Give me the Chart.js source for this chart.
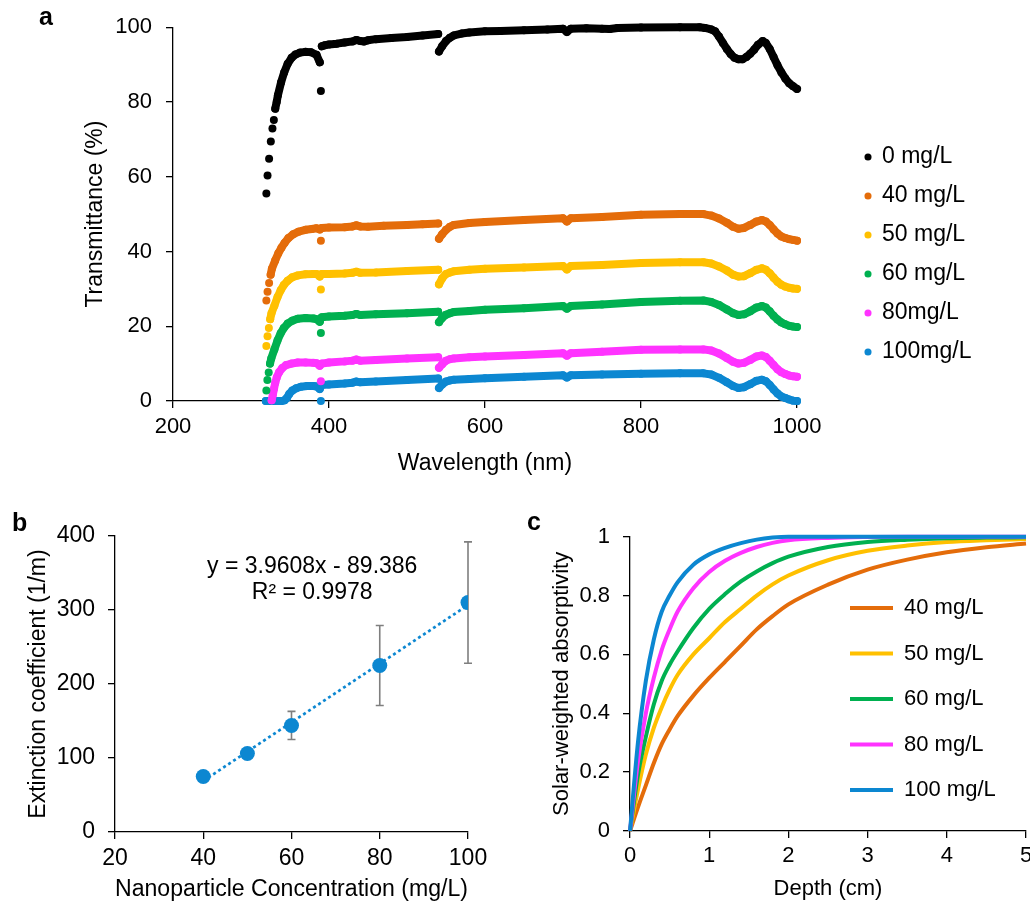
<!DOCTYPE html>
<html>
<head>
<meta charset="utf-8">
<script src="https://cdn.jsdelivr.net/npm/chart.js@4.4.1/dist/chart.umd.min.js"></script>
<style>
  html, body { margin: 0; padding: 0; background: #fff; width: 1030px; height: 907px; overflow: hidden; }
  canvas { position: absolute; display: block; }
  #chartA { left: 0; top: 0; }
  #chartB { left: 0; top: 490px; }
  #chartC { left: 520px; top: 490px; }
</style>
</head>
<body>
<canvas id="chartA" width="1030" height="490"></canvas>
<canvas id="chartB" width="520" height="417"></canvas>
<canvas id="chartC" width="540" height="417"></canvas>
<script>
// ---------- (a) transmittance spectra: [wavelength nm, transmittance %] ----------
const spectrum0 = [[319.7,55.5],[321.2,60.3],[323.2,64.8],[325.4,69.4],[327.5,72.9],[329.3,75.2],[331.1,78.2],[332.9,80.0],[334.5,81.8],[338.5,85.2],[342.5,87.9],[347,90.2],[352,91.8],[357,92.7],[363,93.2],[370,93.4],[377,93.3],[384,92.6],[388.2,90.6],[389.6,82.9],[390.8,94.9],[395,95.2],[400,95.4],[410,95.6],[420,95.9],[430,96.2],[435,96.6],[440,96.3],[445,96.2],[450,96.5],[460,96.8],[480,97.1],[500,97.4],[520,97.8],[540,98.2],[541,93.5],[545,94.9],[550,96.3],[555,97.2],[560,97.8],[570,98.3],[580,98.6],[600,98.9],[620,99.0],[650,99.2],[680,99.4],[700,99.6],[705,98.7],[710,99.6],[730,99.7],[750,99.6],[760,99.5],[770,99.8],[800,99.9],[850,100],[875,100],[882,99.8],[890,99.4],[895,98.9],[900,97.5],[905,95.8],[910,94.2],[915,92.8],[920,91.8],[925,91.4],[930,91.4],[935,92.0],[940,92.9],[945,94.0],[950,95.3],[956,96.3],[960,95.8],[965,94.2],[970,92.0],[975,89.8],[980,87.9],[985,86.3],[990,85.0],[995,84.2],[1000,83.5]];
const spectrum40 = [[319.7,26.9],[321.2,29.2],[323.2,31.6],[325.2,33.8],[326.8,35.4],[331,37.6],[335,39.5],[339,41.0],[343,42.3],[348,43.6],[354,44.6],[361,45.3],[370,45.8],[378,46.0],[384,46.2],[388.2,45.9],[389.6,42.9],[390.8,46.3],[400,46.4],[420,46.5],[430,46.7],[435,47.0],[440,46.7],[450,46.6],[470,46.9],[500,47.1],[520,47.3],[540,47.5],[541,43.4],[545,44.6],[550,45.8],[555,46.6],[560,47.1],[580,47.6],[600,47.9],[650,48.4],[700,48.9],[705,48.0],[710,48.9],[750,49.2],[800,49.8],[850,50.0],[880,50.0],[890,49.6],[900,48.8],[910,47.7],[918,46.6],[925,46.1],[932,46.3],[940,47.1],[948,48.0],[955,48.4],[960,48.0],[965,47.1],[970,45.9],[975,44.8],[980,44.0],[985,43.6],[990,43.3],[995,43.1],[1000,42.9]];
const spectrum50 = [[319.7,14.7],[321.2,17.3],[322.9,19.5],[324.6,21.9],[326.3,23.5],[330,25.5],[334,27.8],[338,29.6],[342,31.0],[347,32.2],[353,33.1],[360,33.6],[370,33.9],[380,34.0],[384,34.0],[388.2,33.3],[389.6,29.8],[390.8,34.0],[400,34.0],[420,34.1],[430,34.3],[435,34.6],[440,34.3],[460,34.4],[500,34.8],[540,35.1],[541,31.2],[545,32.8],[550,34.0],[555,34.4],[560,34.7],[580,35.1],[600,35.4],[650,35.7],[700,36.1],[705,35.2],[710,36.1],[750,36.4],[800,36.9],[850,37.1],[880,37.1],[890,36.8],[900,36.0],[910,34.9],[918,33.8],[925,33.3],[932,33.4],[940,34.2],[948,35.1],[955,35.5],[960,35.1],[965,34.2],[970,33.0],[975,31.9],[980,31.1],[985,30.6],[990,30.3],[995,30.1],[1000,30.0]];
const spectrum60 = [[319.7,2.8],[321,5.6],[322.7,7.6],[324.4,10.0],[326,11.4],[330,13.8],[334,16.2],[338,18.1],[342,19.5],[347,20.7],[353,21.5],[360,22.0],[370,22.2],[380,22.1],[384,21.9],[388.2,21.2],[389.6,18.2],[390.8,22.4],[400,22.6],[420,22.8],[430,23.0],[435,23.3],[440,23.0],[460,23.2],[500,23.5],[540,23.9],[541,21.1],[545,22.2],[550,23.1],[555,23.5],[560,23.8],[580,24.1],[600,24.4],[650,24.8],[700,25.4],[705,24.7],[710,25.4],[750,25.8],[800,26.5],[850,26.8],[880,26.9],[890,26.5],[900,25.7],[910,24.5],[918,23.5],[925,23.0],[932,23.2],[940,24.0],[948,25.0],[955,25.4],[960,25.0],[965,24.0],[970,22.8],[975,21.8],[980,21.0],[985,20.5],[990,20.1],[995,19.9],[1000,19.8]];
const spectrum80 = [[326.5,0.2],[328,1.7],[329.5,3.3],[331,4.8],[333,6.3],[336,7.7],[340,8.8],[345,9.6],[352,10.0],[360,10.3],[370,10.3],[380,10.2],[384,10.1],[388.2,9.4],[389.6,5.3],[390.8,10.0],[400,10.3],[420,10.6],[430,10.8],[435,11.1],[440,10.8],[460,11.0],[500,11.4],[540,11.7],[541,8.9],[545,9.8],[550,10.8],[555,11.2],[560,11.4],[580,11.7],[600,11.9],[650,12.3],[700,12.8],[705,12.1],[710,12.8],[750,13.2],[800,13.7],[850,13.8],[880,13.8],[890,13.5],[900,12.7],[910,11.5],[918,10.5],[925,10.0],[932,10.2],[940,11.0],[948,11.9],[955,12.2],[960,11.8],[965,10.8],[970,9.6],[975,8.5],[980,7.7],[985,7.2],[990,6.8],[995,6.6],[1000,6.5]];
const spectrum100 = [[319,0],[323,0],[327,0],[331,0],[335,0],[339,0],[343,0.2],[346,0.8],[349,1.9],[353,2.8],[358,3.4],[364,3.8],[372,4.0],[380,4.0],[384,3.9],[388.2,3.2],[389.6,0],[390.8,4.3],[400,4.4],[420,4.7],[430,4.9],[435,5.2],[440,5.0],[460,5.2],[500,5.6],[540,6.0],[541,3.5],[545,4.4],[550,5.2],[555,5.5],[560,5.7],[580,5.9],[600,6.1],[650,6.5],[700,6.9],[705,6.3],[710,6.9],[750,7.1],[800,7.3],[850,7.4],[880,7.4],[890,7.1],[900,6.2],[910,5.0],[918,4.0],[925,3.5],[932,3.7],[940,4.5],[948,5.4],[955,5.7],[960,5.3],[965,4.3],[970,3.1],[975,2.0],[980,1.2],[985,0.8],[990,0.4],[995,0.1],[1000,0]];
const spectrumLabels = ['0 mg/L', '40 mg/L', '50 mg/L', '60 mg/L', '80mg/L', '100mg/L'];
const wavelengthTicks = [200, 400, 600, 800, 1000];

// ---------- (b) extinction coefficient vs concentration ----------
const concentration = [40, 50, 60, 80, 100];
const extinction = [75, 106, 144, 225, 310];
const extinctionSd = [3, 5, 19, 54, 82];
const fitSlope = 3.9608;
const fitIntercept = -89.386;
const fitR2 = 0.9978;

// ---------- (c) solar-weighted absorptivity vs depth ----------
const depth = [0, 0.1, 0.2, 0.3, 0.4, 0.5, 0.6, 0.8, 1.0, 1.2, 1.4, 1.6, 1.8, 2.0, 2.5, 3.0, 3.5, 4.0, 4.5, 5.0];
const absorb40  = [0, 0.08, 0.155, 0.23, 0.295, 0.345, 0.39, 0.46, 0.52, 0.575, 0.63, 0.685, 0.73, 0.77, 0.837, 0.888, 0.922, 0.947, 0.964, 0.977];
const absorb50  = [0, 0.14, 0.26, 0.35, 0.42, 0.48, 0.53, 0.60, 0.655, 0.71, 0.755, 0.80, 0.838, 0.868, 0.92, 0.952, 0.97, 0.982, 0.988, 0.992];
const absorb60  = [0, 0.19, 0.32, 0.43, 0.51, 0.565, 0.61, 0.69, 0.755, 0.805, 0.848, 0.882, 0.91, 0.932, 0.965, 0.982, 0.99, 0.995, 0.997, 0.998];
const absorb80  = [0, 0.235, 0.40, 0.52, 0.615, 0.685, 0.745, 0.825, 0.88, 0.918, 0.945, 0.965, 0.979, 0.988, 0.996, 0.999, 1, 1, 1, 1];
const absorb100 = [0, 0.30, 0.51, 0.65, 0.745, 0.80, 0.845, 0.905, 0.94, 0.962, 0.978, 0.99, 0.997, 1, 1, 1, 1, 1, 1, 1];
const absorbLabels = ['40 mg/L', '50 mg/L', '60 mg/L', '80 mg/L', '100 mg/L'];

// ---------- palette & fonts ----------
const BLACK = '#000000', ORANGE = '#E46C0A', YELLOW = '#FFC000', GREEN = '#00B050', MAGENTA = '#FF33FF', BLUE = '#0C87D1';
const FONT = '"Liberation Sans", Arial, Helvetica, sans-serif';
Chart.defaults.font.family = FONT;
Chart.defaults.color = '#000';

// Places the legend box at a fixed spot on the canvas.
const legendPlacer = {
  id: 'legendPlacer',
  afterLayout(chart, args, opts) {
    const lg = chart.legend;
    if (!lg || opts.left == null) return;
    const w = lg.width, h = lg.height;
    lg.left = opts.left; lg.top = opts.top;
    lg.right = opts.left + w; lg.bottom = opts.top + h;
  }
};

// Bold panel letter in the corner.
const panelLetter = {
  id: 'panelLetter',
  afterDraw(chart, args, opts) {
    const ctx = chart.ctx;
    ctx.save();
    ctx.font = 'bold 25px ' + FONT;
    ctx.fillStyle = '#000';
    ctx.textBaseline = 'alphabetic';
    ctx.textAlign = 'left';
    ctx.fillText(opts.text, opts.x, opts.y);
    ctx.restore();
  }
};

// Standard-deviation whiskers for panel b.
const errorBars = {
  id: 'errorBars',
  beforeDatasetsDraw(chart, args, opts) {
    const { ctx, scales: { x, y } } = chart;
    ctx.save();
    ctx.strokeStyle = opts.color;
    ctx.lineWidth = opts.width;
    concentration.forEach((c, i) => {
      const px = x.getPixelForValue(c);
      const top = y.getPixelForValue(extinction[i] + extinctionSd[i]);
      const bot = y.getPixelForValue(extinction[i] - extinctionSd[i]);
      ctx.beginPath();
      ctx.moveTo(px, top); ctx.lineTo(px, bot);
      ctx.moveTo(px - opts.cap, top); ctx.lineTo(px + opts.cap, top);
      ctx.moveTo(px - opts.cap, bot); ctx.lineTo(px + opts.cap, bot);
      ctx.stroke();
    });
    ctx.restore();
  }
};

// Trendline equation text, anchored in data coordinates.
const fitLabel = {
  id: 'fitLabel',
  afterDatasetsDraw(chart, args, opts) {
    const { ctx, scales: { x, y } } = chart;
    const px = x.getPixelForValue(opts.at[0]);
    const py = y.getPixelForValue(opts.at[1]);
    ctx.save();
    ctx.font = opts.size + 'px ' + FONT;
    ctx.fillStyle = '#000';
    ctx.textAlign = 'center';
    ctx.textBaseline = 'middle';
    opts.lines.forEach((t, i) => ctx.fillText(t, px, py + i * opts.gap));
    ctx.restore();
  }
};

// Plain number labels (no thousands separator, no trailing zeros).
const plainTick = v => String(Number(Number(v).toFixed(3)));

function axisStyle(tickSize, tickPad) {
  return {
    grid: { display: true, drawOnChartArea: false, drawTicks: true, tickLength: 7, color: '#000', lineWidth: 1.3 },
    border: { display: true, color: '#000', width: 1.3 },
    ticks: { font: { size: tickSize }, color: '#000', padding: tickPad, callback: plainTick }
  };
}

// ---------- chart a ----------
// Near-vertical jumps between consecutive readings are left unjoined so the samples show as dots.
const isJump = ctx => Math.abs(ctx.p1.x - ctx.p0.x) < 2.5 && Math.abs(ctx.p1.y - ctx.p0.y) > 7;
const spectra = [spectrum0, spectrum40, spectrum50, spectrum60, spectrum80, spectrum100];
const spectraColors = [BLACK, ORANGE, YELLOW, GREEN, MAGENTA, BLUE];

const axA = axisStyle(22, 6), ayA = axisStyle(22, 14);
new Chart(document.getElementById('chartA'), {
  type: 'line',
  data: {
    datasets: spectra.map((pts, i) => ({
      label: spectrumLabels[i],
      data: pts.map(([x, y]) => ({ x, y })),
      borderColor: spectraColors[i],
      backgroundColor: spectraColors[i],
      borderWidth: 8,
      borderJoinStyle: 'round',
      borderCapStyle: 'round',
      pointStyle: 'circle',
      pointRadius: 4,
      pointBorderWidth: 0,
      pointHoverRadius: 4,
      tension: 0,
      clip: false,
      segment: { borderColor: ctx => isJump(ctx) ? 'rgba(0,0,0,0)' : undefined }
    }))
  },
  options: {
    responsive: false, animation: false, events: [],
    layout: { padding: { top: 26, right: 233, bottom: 0, left: 0 } },
    scales: {
      x: {
        type: 'linear', min: 200, max: 1000,
        afterBuildTicks: s => { s.ticks = wavelengthTicks.map(v => ({ value: v })); },
        grid: axA.grid, border: axA.border, ticks: axA.ticks,
        title: { display: true, text: 'Wavelength (nm)', font: { size: 23 }, color: '#000', padding: { top: 0, bottom: 13 } },
        afterFit: s => { s.height = 89; }
      },
      y: {
        min: 0, max: 100,
        grid: ayA.grid, border: ayA.border, ticks: Object.assign({ stepSize: 20 }, ayA.ticks),
        title: { display: true, text: 'Transmittance (%)', font: { size: 23 }, color: '#000', padding: { top: 82, bottom: 0 } },
        afterFit: s => { s.width = 173; }
      }
    },
    plugins: {
      legend: {
        position: 'chartArea', align: 'start',
        labels: { usePointStyle: true, boxWidth: 5, boxHeight: 5, padding: 16, font: { size: 23 }, color: '#000' }
      },
      tooltip: { enabled: false },
      legendPlacer: { left: 849.5, top: 129.5 },
      panelLetter: { text: 'a', x: 39, y: 25 }
    }
  },
  plugins: [legendPlacer, panelLetter]
});

// ---------- chart b ----------
const axB = axisStyle(23, 6), ayB = axisStyle(23, 13);
const fitRange = [concentration[0], concentration[concentration.length - 1]];
new Chart(document.getElementById('chartB'), {
  type: 'scatter',
  data: {
    datasets: [
      {
        label: 'Extinction coefficient',
        data: concentration.map((c, i) => ({ x: c, y: extinction[i] })),
        backgroundColor: BLUE, borderWidth: 0,
        pointRadius: 7.5, pointHoverRadius: 7.5
      },
      {
        type: 'line', label: 'Linear fit',
        data: fitRange.map(x => ({ x, y: fitSlope * x + fitIntercept })),
        borderColor: BLUE, borderWidth: 2.7, borderDash: [3, 3],
        pointRadius: 0, fill: false, tension: 0
      }
    ]
  },
  options: {
    responsive: false, animation: false, events: [],
    layout: { padding: { top: 46, right: 52, bottom: 0, left: 0 } },
    scales: {
      x: {
        type: 'linear', min: 20, max: 100,
        grid: axB.grid, border: axB.border, ticks: Object.assign({ stepSize: 20 }, axB.ticks),
        title: { display: true, text: 'Nanoparticle Concentration (mg/L)', font: { size: 23.5 }, color: '#000', padding: { top: 0, bottom: 3 } },
        afterFit: s => { s.height = 75; }
      },
      y: {
        min: 0, max: 400,
        grid: ayB.grid, border: ayB.border, ticks: Object.assign({ stepSize: 100 }, ayB.ticks),
        title: { display: true, text: 'Extinction coefficient (1/m)', font: { size: 23 }, color: '#000', padding: { top: 25, bottom: 0 } },
        afterFit: s => { s.width = 115; }
      }
    },
    plugins: {
      legend: { display: false },
      tooltip: { enabled: false },
      errorBars: { color: '#7F7F7F', width: 1.6, cap: 4 },
      fitLabel: {
        at: [64.7, 358.5], gap: 26, size: 23,
        lines: ['y = ' + fitSlope + 'x - ' + Math.abs(fitIntercept), 'R\u00B2 = ' + fitR2]
      },
      panelLetter: { text: 'b', x: 12, y: 41 }
    }
  },
  plugins: [errorBars, fitLabel, panelLetter]
});

// ---------- chart c ----------
// Drawn from highest to lowest concentration so the steepest curve sits on top;
// the legend is reversed to read 40 → 100.
const absorbSeries = [absorb40, absorb50, absorb60, absorb80, absorb100];
const absorbColors = [ORANGE, YELLOW, GREEN, MAGENTA, BLUE];
const axC = axisStyle(22, 5), ayC = axisStyle(22, 13);
new Chart(document.getElementById('chartC'), {
  type: 'line',
  data: {
    datasets: absorbSeries.map((vals, i) => ({
      label: absorbLabels[i],
      data: depth.map((d, j) => ({ x: d, y: vals[j] })),
      borderColor: absorbColors[i],
      backgroundColor: absorbColors[i],
      borderWidth: 4,
      pointRadius: 0, pointHoverRadius: 0,
      cubicInterpolationMode: 'monotone',
      clip: false
    })).reverse()
  },
  options: {
    responsive: false, animation: false, events: [],
    layout: { padding: { top: 46.7, right: 34, bottom: 0, left: 0 } },
    scales: {
      x: {
        type: 'linear', min: 0, max: 5,
        grid: axC.grid, border: axC.border, ticks: Object.assign({ stepSize: 1 }, axC.ticks),
        title: { display: true, text: 'Depth (cm)', font: { size: 22 }, color: '#000', padding: { top: 0, bottom: 5 } },
        afterFit: s => { s.height = 76; }
      },
      y: {
        min: 0, max: 1,
        grid: ayC.grid, border: ayC.border, ticks: Object.assign({ stepSize: 0.2 }, ayC.ticks),
        title: { display: true, text: 'Solar-weighted absorptivity', font: { size: 22 }, color: '#000', padding: { top: 28.5, bottom: 0 } },
        afterFit: s => { s.width = 110; }
      }
    },
    plugins: {
      legend: {
        position: 'chartArea', align: 'start', reverse: true,
        labels: { boxWidth: 43, boxHeight: 0, padding: 23.5, font: { size: 22 }, color: '#000' }
      },
      tooltip: { enabled: false },
      legendPlacer: { left: 306.5, top: 83.5 },
      panelLetter: { text: 'c', x: 7, y: 40 }
    }
  },
  plugins: [legendPlacer, panelLetter]
});
</script>
</body>
</html>
